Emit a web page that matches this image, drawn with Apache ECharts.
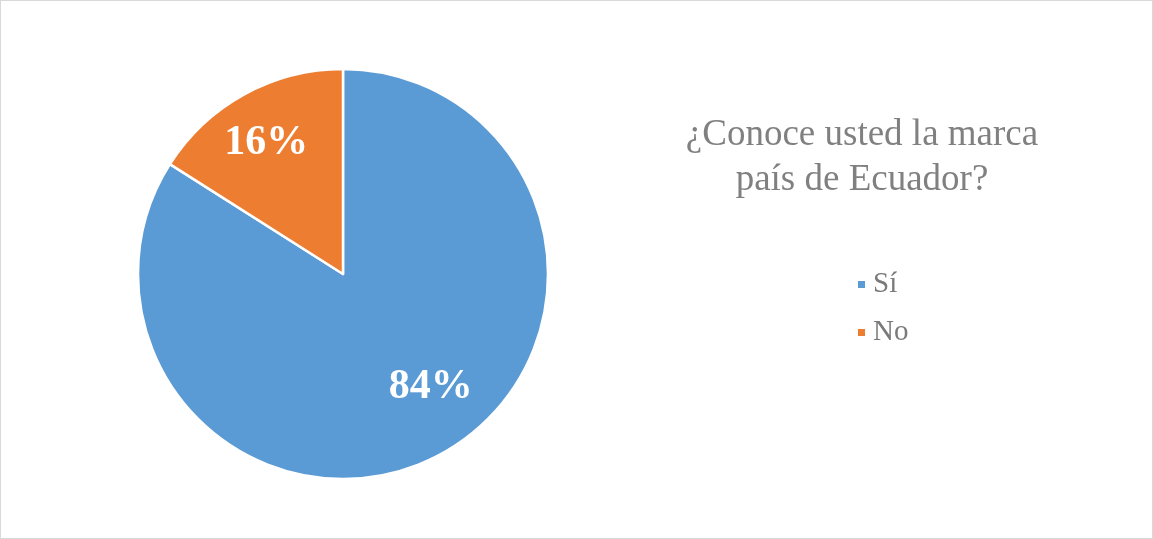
<!DOCTYPE html>
<html>
<head>
<meta charset="utf-8">
<script src="https://cdn.jsdelivr.net/npm/echarts@6/dist/echarts.min.js"></script>
<style>
    html, body { margin: 0; padding: 0; background: #fff; }
    #chart {
        width: 1151px;
        height: 537px;
        border: 1px solid #d9d9d9;
    }
</style>
</head>
<body>
<div id="chart"></div>
<script>
const categories = ['Sí', 'No']
const values = [84, 16]
const colors = ['#5b9bd5', '#ed7d31']
// label nudges so they sit where the original has them
const labelOffsets = [[37, 21], [-26, -38]]

const chart = echarts.init(document.querySelector('#chart'))
window.onresize = function() {
    chart.resize()
}

chart.setOption({
    title: {
        text: '¿Conoce usted la marca\npaís de Ecuador?',
        left: 856,
        top: 107,
        textAlign: 'center',
        textStyle: {
            fontFamily: 'Liberation Serif',
            fontWeight: 'normal',
            fontSize: 37,
            lineHeight: 45,
            color: '#808080'
        }
    },
    legend: {
        orient: 'vertical',
        left: 850,
        top: 264,
        itemWidth: 9,
        itemHeight: 9,
        itemGap: 19,
        icon: 'rect',
        data: categories,
        textStyle: {
            fontFamily: 'Liberation Serif',
            fontSize: 29,
            color: '#7a7a7a',
            padding: [0, 0, 0, 2]
        }
    },
    series: [
        {
            type: 'pie',
            center: [342, 273],
            radius: 205,
            startAngle: 90,
            clockwise: true,
            animation: false,
            itemStyle: {
                borderColor: '#ffffff',
                borderWidth: 2.5
            },
            label: {
                show: true,
                position: 'inside',
                formatter(p) {
                    return p.value + '%'
                },
                fontFamily: 'Liberation Serif',
                fontWeight: 'bold',
                fontSize: 42,
                color: '#ffffff'
            },
            emphasis: { disabled: true },
            data: categories.map((name, i) => ({
                name: name,
                value: values[i],
                itemStyle: { color: colors[i] },
                label: { offset: labelOffsets[i] }
            }))
        }
    ]
})
</script>
</body>
</html>
